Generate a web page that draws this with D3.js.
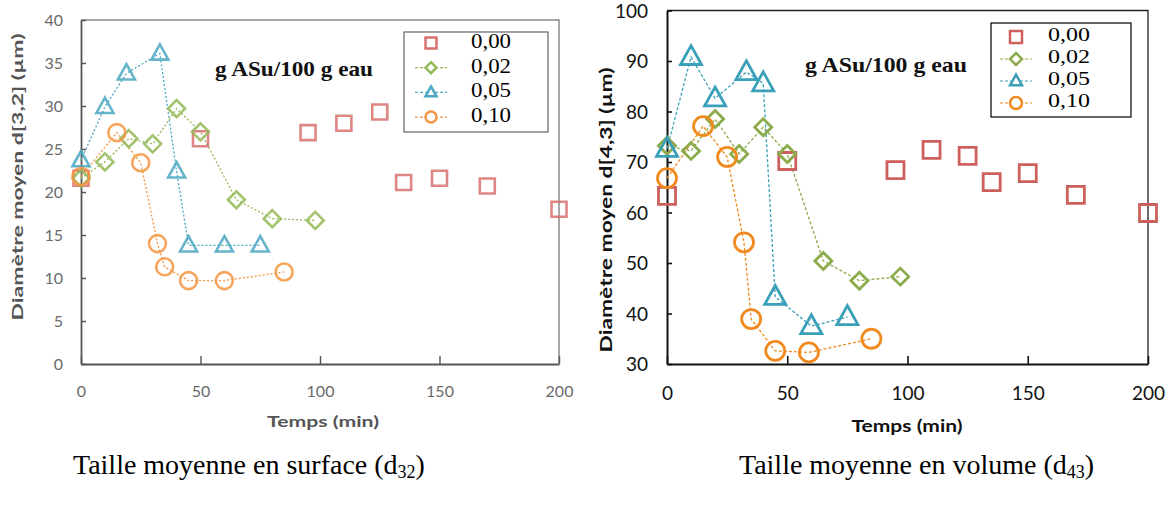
<!DOCTYPE html>
<html>
<head>
<meta charset="utf-8">
<script src="https://cdn.jsdelivr.net/npm/d3@7/dist/d3.min.js"></script>
<style>
  body { margin: 0; background: #fff; }
  svg { display: block; }
</style>
</head>
<body>
<svg id="chart" width="1168" height="508"></svg>
<script>
// ---------- DATA ----------
const seriesNames = ["0,00", "0,02", "0,05", "0,10"];
const xTicks = [0, 50, 100, 150, 200];
const yTicksD32 = [0, 5, 10, 15, 20, 25, 30, 35, 40];
const yTicksD43 = [30, 40, 50, 60, 70, 80, 90, 100];

// d32 (surface)
const t000_d32 = [0, 50, 95, 110, 125, 135, 150, 170, 200];
const v000_d32 = [21.6, 26.2, 26.9, 28.0, 29.3, 21.1, 21.6, 20.7, 18.0];
const t002_d32 = [0, 10, 20, 30, 40, 50, 65, 80, 98];
const v002_d32 = [21.6, 23.5, 26.2, 25.6, 29.7, 27.0, 19.1, 16.9, 16.7];
const t005_d32 = [0, 10, 19, 33, 40, 45, 60, 75];
const v005_d32 = [23.7, 29.9, 33.8, 36.1, 22.4, 13.8, 13.8, 13.8];
const t010_d32 = [0, 15, 25, 32, 35, 45, 60, 85];
const v010_d32 = [21.8, 26.9, 23.4, 14.0, 11.3, 9.7, 9.7, 10.7];

// d43 (volume)
const t000_d43 = [0, 50, 95, 110, 125, 135, 150, 170, 200];
const v000_d43 = [63.3, 70.2, 68.4, 72.4, 71.2, 66.0, 67.8, 63.5, 59.9];
const t002_d43 = [0, 10, 20, 30, 40, 50, 65, 80, 97];
const v002_d43 = [73.2, 72.2, 78.5, 71.6, 76.9, 71.6, 50.4, 46.5, 47.3];
const t005_d43 = [0, 10, 20, 33, 40, 45, 60, 75];
const v005_d43 = [72.6, 90.8, 82.6, 87.8, 85.6, 43.3, 37.5, 39.3];
const t010_d43 = [0, 15, 25, 32, 35, 45, 59, 85];
const v010_d43 = [66.8, 77.1, 71.0, 54.1, 38.9, 32.6, 32.3, 35.0];

const annotation = "g ASu/100 g eau";
const captions = ["Taille moyenne en surface (d", "Taille moyenne en volume (d"];
const captionSubs = ["32", "43"];

// ---------- DRAWING ----------
const svg = d3.select("#chart");
const zip = (t, v) => t.map((x, i) => [x, v[i]]);

function markerPath(type, s) {
  if (type === "square") return `M${-s/2},${-s/2}h${s}v${s}h${-s}Z`;
  if (type === "diamond") return `M0,${-s/2}L${s/2},0L0,${s/2}L${-s/2},0Z`;
  if (type === "triangle") { const h = s * 0.9; return `M0,${-h*0.6}L${s/2},${h*0.4}L${-s/2},${h*0.4}Z`; }
  if (type === "circle") { const r = s/2; return `M${r},0A${r},${r} 0 1,1 ${-r},0A${r},${r} 0 1,1 ${r},0Z`; }
}

function drawChart(cfg) {
  const g = svg.append("g");
  const x = d3.scaleLinear().domain([0, 200]).range([cfg.x0, cfg.x1]);
  const y = d3.scaleLinear().domain(cfg.yDomain).range([cfg.yBottom, cfg.yTop]);

  // frame top/right
  g.append("path").attr("d", `M${cfg.x0},${cfg.yTop}H${cfg.x1}V${cfg.yBottom}`)
    .attr("fill", "none").attr("stroke", cfg.frameColor).attr("stroke-width", cfg.frameW);

  // axes
  const xAxis = d3.axisBottom(x).tickValues(xTicks).tickSizeInner(-cfg.xTickLen).tickSizeOuter(0).tickPadding(cfg.xTickPad);
  const yAxis = d3.axisLeft(y).tickValues(cfg.yTicks).tickSizeInner(-cfg.yTickLen).tickSizeOuter(0).tickPadding(cfg.yTickPad);
  const gx = g.append("g").attr("transform", `translate(0,${cfg.yBottom})`).call(xAxis);
  const gy = g.append("g").attr("transform", `translate(${cfg.x0},0)`).call(yAxis);
  [gx, gy].forEach(a => {
    a.select(".domain").attr("stroke", cfg.axisColor).attr("stroke-width", cfg.axisW);
    a.selectAll(".tick line").attr("stroke", cfg.axisColor).attr("stroke-width", cfg.axisW * 0.8);
    a.selectAll(".tick text").attr("fill", cfg.tickColor).attr("font-family", "Lato, 'Open Sans', sans-serif")
      .attr("font-size", cfg.tickSize);
  });
  gx.selectAll(".tick text").attr("dy", null).attr("y", cfg.xTickY - cfg.yBottom).attr("dominant-baseline", "middle");
  gy.selectAll(".tick text").attr("x", cfg.yTickX - cfg.x0).attr("dy", "0.35em");

  // axis titles
  g.append("text").attr("x", cfg.xLabelX).attr("y", cfg.xLabelY).attr("text-anchor", "middle")
    .attr("dominant-baseline", "middle").attr("font-family", "Lato, 'Open Sans', sans-serif").attr("font-weight", "bold")
    .attr("font-size", cfg.labelSize).attr("fill", cfg.labelColor)
    .attr("textLength", cfg.xLabelLen).attr("lengthAdjust", "spacingAndGlyphs").text("Temps (min)");
  g.append("text").attr("transform", `translate(${cfg.yLabelX},${cfg.yLabelY}) rotate(-90)`).attr("text-anchor", "middle")
    .attr("dominant-baseline", "middle").attr("font-family", "Lato, 'Open Sans', sans-serif").attr("font-weight", "bold")
    .attr("font-size", cfg.labelSize).attr("fill", cfg.labelColor)
    .attr("textLength", cfg.yLabelLen).attr("lengthAdjust", "spacingAndGlyphs").text(cfg.yLabel);

  // annotation
  g.append("text").attr("x", cfg.annX).attr("y", cfg.annY).attr("font-family", "'Liberation Serif', 'Times New Roman', serif")
    .attr("font-weight", "bold").attr("font-size", cfg.annSize).attr("fill", "#111")
    .attr("dominant-baseline", "middle").attr("textLength", cfg.annLen).attr("lengthAdjust", "spacingAndGlyphs")
    .text(annotation);

  const lineGen = d3.line().x(d => x(d[0])).y(d => y(d[1]));

  cfg.series.forEach(s => {
    if (s.line) {
      g.append("path").datum(s.data).attr("d", lineGen).attr("fill", "none")
        .attr("stroke", s.color).attr("stroke-width", cfg.lineW).attr("stroke-dasharray", cfg.dash);
    }
  });
  cfg.series.forEach(s => {
    g.append("g").selectAll("path").data(s.data).join("path")
      .attr("transform", d => `translate(${x(d[0])},${y(d[1])})`)
      .attr("d", markerPath(s.shape, s.size))
      .attr("fill", "none").attr("stroke", s.color).attr("stroke-width", cfg.markerW)
      .attr("opacity", cfg.markerOpacity);
  });

  // legend
  const L = cfg.legend;
  g.append("rect").attr("x", L.x).attr("y", L.y).attr("width", L.w).attr("height", L.h)
    .attr("fill", "#fff").attr("stroke", L.stroke).attr("stroke-width", 1.2);
  cfg.series.forEach((s, i) => {
    const cy = L.firstY + i * L.step;
    if (s.line) {
      g.append("line").attr("x1", L.mx - 16).attr("x2", L.mx + 16).attr("y1", cy).attr("y2", cy)
        .attr("stroke", s.color).attr("stroke-width", 1.2).attr("stroke-dasharray", "3,2");
    }
    g.append("path").attr("transform", `translate(${L.mx},${cy})`).attr("d", markerPath(s.shape, L.ms))
      .attr("fill", s.line ? "#fff" : "none").attr("stroke", s.color).attr("stroke-width", 2.5);
    g.append("text").attr("x", L.tx).attr("y", cy).attr("dominant-baseline", "middle")
      .attr("font-family", "'Liberation Serif', 'Times New Roman', serif").attr("font-size", L.fs)
      .attr("textLength", L.tl).attr("lengthAdjust", "spacingAndGlyphs")
      .attr("fill", "#000").text(seriesNames[i]);
  });
}

// Left chart: d32
drawChart({
  x0: 81, x1: 559, yTop: 20, yBottom: 364, yDomain: [0, 40], yTicks: yTicksD32,
  frameColor: "#8a8a8a", frameW: 1.5, axisColor: "#555", axisW: 1.8,
  xTickLen: 8, yTickLen: 5, xTickPad: 8, yTickPad: 8,
  tickColor: "#6a6a6a", tickSize: 16, xTickY: 393, yTickX: 63,
  labelSize: 15, labelColor: "#555",
  xLabelX: 323, xLabelY: 423, xLabelLen: 112,
  yLabelX: 19, yLabelY: 177, yLabelLen: 287,
  yLabel: "Diamètre moyen d[3,2] (µm)",
  annX: 215, annY: 71, annSize: 22, annLen: 158,
  lineW: 1.3, dash: "2,2", markerW: 2.6, markerOpacity: 0.85,
  series: [
    { data: zip(t000_d32, v000_d32), color: "#d7716f", shape: "square", size: 15, line: false },
    { data: zip(t002_d32, v002_d32), color: "#94b957", shape: "diamond", size: 17, line: true },
    { data: zip(t005_d32, v005_d32), color: "#4ba7c2", shape: "triangle", size: 17, line: true },
    { data: zip(t010_d32, v010_d32), color: "#f5953f", shape: "circle", size: 17, line: true }
  ],
  legend: { x: 404, y: 32, w: 144, h: 100, stroke: "#666", mx: 431, tx: 471, firstY: 43, step: 24.7, ms: 11, fs: 21, tl: 40 }
});

// Right chart: d43
drawChart({
  x0: 667, x1: 1148, yTop: 10.5, yBottom: 364, yDomain: [30, 100], yTicks: yTicksD43,
  frameColor: "#222", frameW: 1.3, axisColor: "#111", axisW: 2,
  xTickLen: 8, yTickLen: 5, xTickPad: 8, yTickPad: 8,
  tickColor: "#111", tickSize: 19, xTickY: 395, yTickX: 648,
  labelSize: 17, labelColor: "#111",
  xLabelX: 907, xLabelY: 428, xLabelLen: 111,
  yLabelX: 608, yLabelY: 210, yLabelLen: 285,
  yLabel: "Diamètre moyen d[4,3] (µm)",
  annX: 805, annY: 67, annSize: 22, annLen: 162,
  lineW: 1.3, dash: "3,2", markerW: 2.8, markerOpacity: 1,
  series: [
    { data: zip(t000_d43, v000_d43), color: "#cd605c", shape: "square", size: 17, line: false },
    { data: zip(t002_d43, v002_d43), color: "#8cab4a", shape: "diamond", size: 17, line: true },
    { data: zip(t005_d43, v005_d43), color: "#3a9fb8", shape: "triangle", size: 21, line: true },
    { data: zip(t010_d43, v010_d43), color: "#f08a1e", shape: "circle", size: 19, line: true }
  ],
  legend: { x: 991, y: 23, w: 140, h: 94, stroke: "#000", mx: 1016, tx: 1048, firstY: 37, step: 22, ms: 12, fs: 19, tl: 42 }
});

// captions
[[73, 0], [739, 1]].forEach(([cx, i]) => {
  const t = svg.append("text").attr("x", cx).attr("y", 468).attr("dominant-baseline", "middle")
    .attr("font-family", "'Liberation Serif', 'Times New Roman', serif").attr("font-size", 28).attr("fill", "#000");
  t.append("tspan").text(captions[i]);
  t.append("tspan").attr("font-size", 18).attr("dy", 6).text(captionSubs[i]);
  t.append("tspan").attr("dy", -6).text(")");
});
</script>
</body>
</html>
